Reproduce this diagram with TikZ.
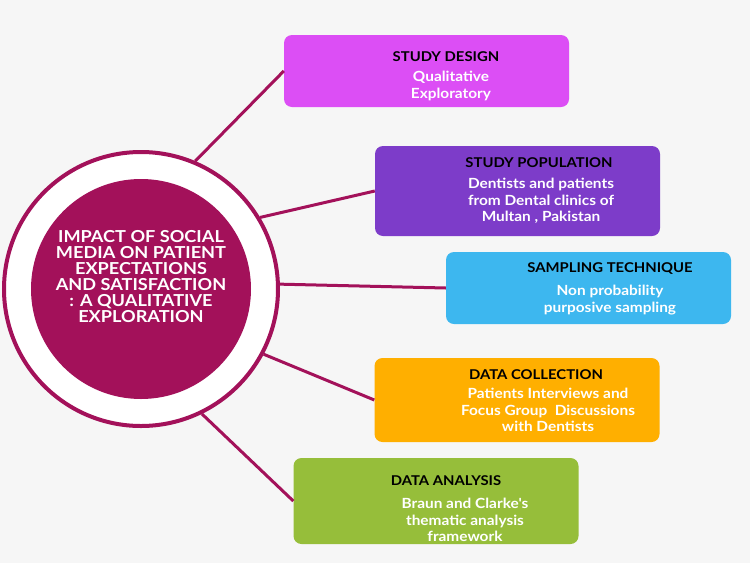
\documentclass[tikz,border=0pt]{standalone}
\usepackage{fontspec}
\setmainfont{Lato}
\newfontfamily\widefont[FakeStretch=1.1]{Lato}
\usepackage{xcolor}
\definecolor{bgray}{HTML}{F6F6F6}
\definecolor{maroon}{HTML}{A3115A}
\definecolor{designc}{HTML}{DC4EF5}
\definecolor{popc}{HTML}{7D3CC9}
\definecolor{samplec}{HTML}{3DB7EF}
\definecolor{collectc}{HTML}{FFAF00}
\definecolor{analysisc}{HTML}{96BE3A}
\usetikzlibrary{positioning}

\begin{document}
\begin{tikzpicture}[
  x=1pt, y=-1pt,
  box/.style={
    rounded corners=8pt, draw=none, fill=#1,
    minimum width=285pt, inner sep=0pt
  },
  head/.style={font=\widefont\fontsize{13.5}{15}\selectfont\bfseries, text=black, inner sep=0pt},
  body/.style={font=\widefont\fontsize{14}{16.5}\selectfont\bfseries, text=white, align=center, inner sep=0pt},
  link/.style={draw=maroon, line width=3pt}
]

% Background
\fill[bgray] (0,0) rectangle (750,563);
\useasboundingbox (0,0) rectangle (750,563);

% Central circle
\node[circle, draw=maroon, line width=4pt, fill=white, minimum size=274pt, inner sep=0pt] (ring) at (141,289) {};
\node[circle, fill=maroon, minimum size=220pt, inner sep=0pt] (core) at (141,289) {};
\node[font=\widefont\fontsize{16.5}{16}\selectfont\bfseries, text=white, align=center, inner sep=0pt] (title) at (141,277)
  {IMPACT OF SOCIAL\\MEDIA ON PATIENT\\EXPECTATIONS\\AND SATISFACTION\\: A QUALITATIVE\\EXPLORATION};

% Boxes
\node[box=designc, minimum height=72pt] (design) at (426.5,71) {};
\node[box=popc, minimum height=90pt] (pop) at (517.5,191) {};
\node[box=samplec, minimum height=72pt] (sample) at (588.5,288) {};
\node[box=collectc, minimum height=84pt] (collect) at (517,400) {};
\node[box=analysisc, minimum height=86pt] (analysis) at (436,501) {};

% Box texts
\node[head] (design-t) at (446,57) {STUDY DESIGN};
\node[body] (design-b) at (451,86) {Qualitative\\Exploratory};

\node[head] (pop-t) at (539,163) {STUDY POPULATION};
\node[body] (pop-b) at (541,201) {Dentists and patients\\from Dental clinics of\\Multan , Pakistan};

\node[head] (sample-t) at (610,269) {SAMPLING TECHNIQUE};
\node[body] (sample-b) at (610,300) {Non probability\\purposive sampling};

\node[head] (collect-t) at (536,375) {DATA COLLECTION};
\node[body] (collect-b) at (548,410) {Patients Interviews and\\Focus Group\ \ Discussions\\with Dentists};

\node[head] (analysis-t) at (446,481) {DATA ANALYSIS};
\node[body] (analysis-b) at (465,520) {Braun and Clarke's\\thematic analysis\\framework};

% Connectors
\draw[link] (ring.67) -- (design.west);
\draw[link] (ring.31) -- (pop.west);
\draw[link] (ring.2) -- (sample.west);
\draw[link] (ring.-28) -- (collect.west);
\draw[link] (ring.-64) -- (analysis.west);

\end{tikzpicture}
\end{document}
